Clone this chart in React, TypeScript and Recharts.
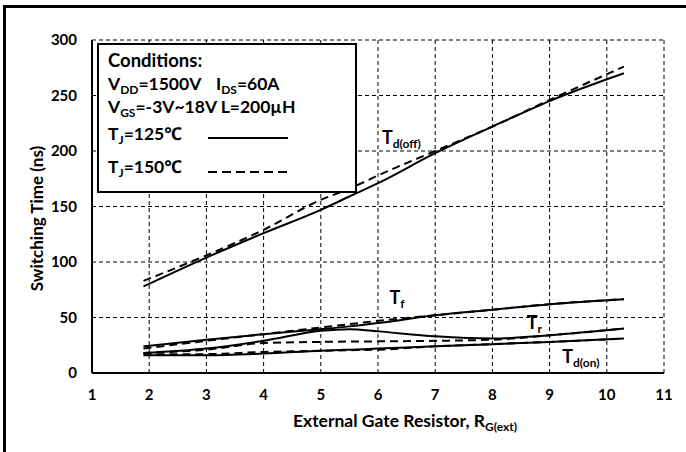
import React from 'react';
import { LineChart, Line, XAxis, YAxis, CartesianGrid, ReferenceDot } from 'recharts';

// external gate resistance (ohm) where the curves were sampled
const rg = [1.9, 3, 4, 5, 5.5, 6, 7, 8, 9, 10.3];

// switching times in ns, Tj = 125 C (solid) and Tj = 150 C (dashed)
const tdOff125 = [78, 104, 126, 147, 159, 171, 198, 222, 245, 270];
const tdOff150 = [83, 106, 129, 156, 166, 178, 200, 222, 246, 276];
const tf125 = [24, 30, 35, 39.5, 42, 45, 52, 57, 62, 66.5];
const tf150 = [22, 29, 35, 41, 44, 47, 52, 57, 62, 66.5];
const tr125 = [18, 22, 29, 38, 39.5, 37.5, 33, 31, 34, 40];
const tr150 = [18, 21, 27, 28, 28.3, 28.5, 29, 30, 34, 40];
const tdOn125 = [16, 16, 17.5, 20, 21, 22, 24, 26, 28, 31];
const tdOn150 = [17, 17, 19, 20, 20.5, 21, 24, 26, 28, 31];

const xTicks = [1, 2, 3, 4, 5, 6, 7, 8, 9, 10, 11];
const yTicks = [0, 50, 100, 150, 200, 250, 300];

const rows = rg.map((x, i) => ({
  rg: x,
  tdOff125: tdOff125[i],
  tdOff150: tdOff150[i],
  tf125: tf125[i],
  tf150: tf150[i],
  tr125: tr125[i],
  tr150: tr150[i],
  tdOn125: tdOn125[i],
  tdOn150: tdOn150[i],
}));

const FONT = 'Lato, "Noto Sans", "Noto Sans CJK SC", sans-serif';

const series = [
  { key: 'tdOff125', dash: undefined },
  { key: 'tdOff150', dash: '8 5' },
  { key: 'tf125', dash: undefined },
  { key: 'tf150', dash: '8 5' },
  { key: 'tr125', dash: undefined },
  { key: 'tr150', dash: '8 5' },
  { key: 'tdOn125', dash: undefined },
  { key: 'tdOn150', dash: '8 5' },
];

// curve names placed in data space (left edge / baseline)
const tags = [
  { main: 'T', sub: 'd(off)', x: 6.07, y: 206 },
  { main: 'T', sub: 'f', x: 6.2, y: 62 },
  { main: 'T', sub: 'r', x: 8.6, y: 39.5 },
  { main: 'T', sub: 'd(on)', x: 9.22, y: 9 },
];

const tagContent = (main: string, sub: string) => (props: any) => {
  const { viewBox } = props;
  return (
    <text x={viewBox.x} y={viewBox.y} fontFamily={FONT} fontWeight={700} fontSize={18} fill="#000">
      {main}
      <tspan fontSize={12} dy={4}>{sub}</tspan>
    </text>
  );
};

const yTitle = (props: any) => {
  const { viewBox } = props;
  const cx = viewBox.x - 6;
  const cy = viewBox.y + viewBox.height / 2 + 12;
  return (
    <text
      x={cx}
      y={cy}
      transform={`rotate(-90 ${cx} ${cy})`}
      textAnchor="middle"
      dominantBaseline="central"
      fontFamily={FONT}
      fontWeight={700}
      fontSize={17}
      fill="#000"
    >
      Switching Time (ns)
    </text>
  );
};

const xTitle = (props: any) => {
  const { viewBox } = props;
  return (
    <text
      x={viewBox.x + viewBox.width / 2 + 27}
      y={427}
      textAnchor="middle"
      fontFamily={FONT}
      fontWeight={700}
      fontSize={17.5}
      fill="#000"
    >
      External Gate Resistor, R
      <tspan fontSize={12} dy={4}>G(ext)</tspan>
    </text>
  );
};

// one legend line: base text, lowered subscript, then the rest back on the baseline
const SubText = ({ x, y, pre, sub, post }: { x: number; y: number; pre: string; sub: string; post: string }) => (
  <text x={x} y={y}>
    {pre}
    <tspan fontSize={12} dy={4}>{sub}</tspan>
    <tspan dy={-4}>{post}</tspan>
  </text>
);

const ConditionsBox = () => (
  <svg width={686} height={452} style={{ position: 'absolute', left: 0, top: 0, pointerEvents: 'none' }}>
    <rect x={98} y={44} width={258} height={148} fill="#fff" stroke="#000" strokeWidth={2} />
    <g fontFamily={FONT} fontWeight={700} fontSize={17.5} fill="#000">
      <text x={108} y={67} fontSize={18.5}>Conditions:</text>
      <SubText x={108} y={90} pre="V" sub="DD" post="=1500V" />
      <SubText x={216} y={90} pre="I" sub="DS" post="=60A" />
      <SubText x={108} y={113} pre="V" sub="GS" post="=-3V~18V L=200µH" />
      <SubText x={108} y={140} pre="T" sub="J" post="=125℃" />
      <SubText x={108} y={173} pre="T" sub="J" post="=150℃" />
    </g>
    <line x1={208} x2={288} y1={138} y2={138} stroke="#000" strokeWidth={2} />
    <line x1={208} x2={288} y1={172} y2={172} stroke="#000" strokeWidth={2} strokeDasharray="9 5" />
  </svg>
);

export default function App() {
  return (
    <div style={{ position: 'absolute', left: 0, top: 0, width: 686, height: 452, background: '#fff', overflow: 'hidden' }}>
      <div
        style={{
          position: 'absolute',
          left: 3,
          top: 5,
          width: 700,
          height: 460,
          borderLeft: '3px solid #000',
          borderTop: '3px solid #000',
        }}
      />
      <LineChart
        width={686}
        height={452}
        data={rows}
        margin={{ top: 40, right: 22, bottom: 49, left: 42 }}
        style={{ position: 'absolute', left: 0, top: 0 }}
      >
        <CartesianGrid stroke="#000" strokeWidth={1} strokeDasharray="4 3" />
        <XAxis
          dataKey="rg"
          type="number"
          domain={[1, 11]}
          ticks={xTicks}
          height={30}
          tickLine={false}
          tickSize={0}
          tickMargin={16}
          axisLine={{ stroke: '#000', strokeWidth: 2 }}
          tick={{ fill: '#000', fontSize: 15, fontWeight: 700, fontFamily: FONT }}
          label={{ content: xTitle }}
        />
        <YAxis
          type="number"
          domain={[0, 300]}
          ticks={yTicks}
          width={50}
          tickLine={false}
          tickSize={0}
          tickMargin={15}
          axisLine={{ stroke: '#000', strokeWidth: 2 }}
          tick={{ fill: '#000', fontSize: 15, fontWeight: 700, fontFamily: FONT }}
          label={{ content: yTitle }}
        />
        {series.map((s) => (
          <Line
            key={s.key}
            type="monotone"
            dataKey={s.key}
            stroke="#000"
            strokeWidth={2}
            strokeDasharray={s.dash}
            dot={false}
            activeDot={false}
            isAnimationActive={false}
          />
        ))}
        {tags.map((t) => (
          <ReferenceDot
            key={t.sub}
            x={t.x}
            y={t.y}
            r={0}
            fill="none"
            stroke="none"
            label={{ content: tagContent(t.main, t.sub) }}
          />
        ))}
      </LineChart>
      <ConditionsBox />
    </div>
  );
}
